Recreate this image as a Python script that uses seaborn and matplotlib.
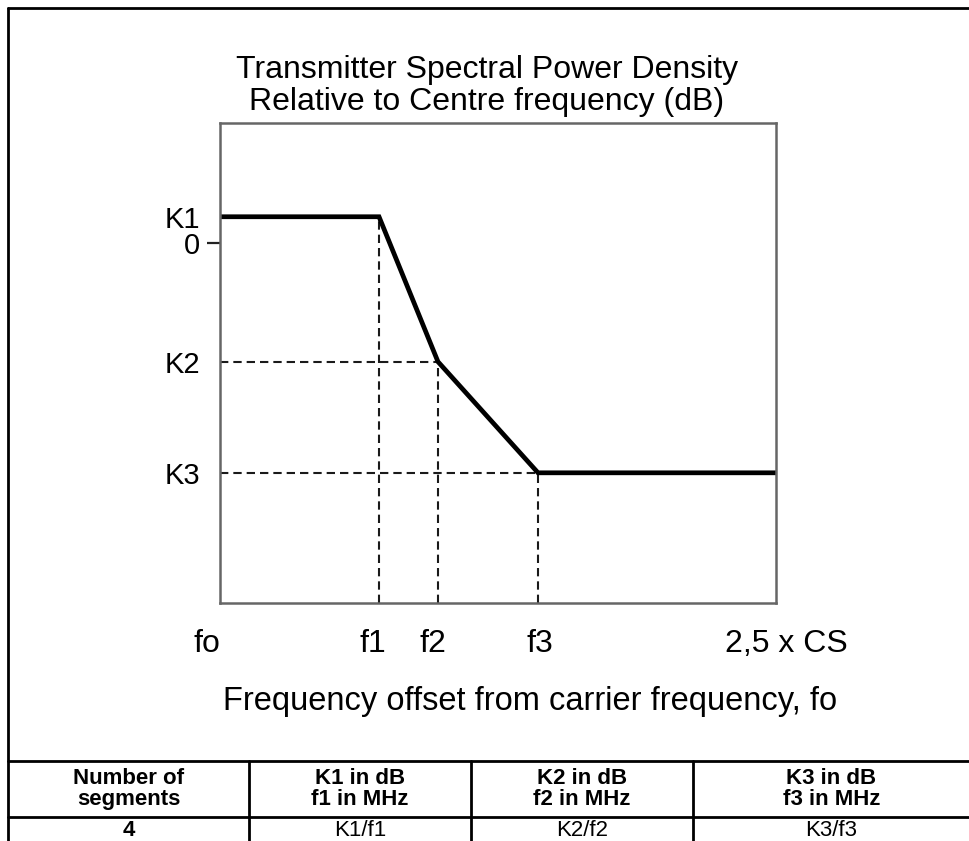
import matplotlib
matplotlib.use("Agg")
import matplotlib.pyplot as plt
import matplotlib.transforms as mtransforms
from matplotlib.lines import Line2D
import pandas as pd
import seaborn as sns

# Mask corner points: frequency offset (in units of CS) and relative level (dB)
freq = [0.0, 0.715, 0.98, 1.43, 2.5]
level = [3.0, 3.0, -13.7, -26.5, -26.5]

x_ticks = [0.0, 0.715, 0.98, 1.43, 2.5]
x_tick_labels = ["fo", "f1", "f2", "f3", "2,5 x CS"]
y_ticks = [3.0, 0.0, -13.7, -26.5]
y_tick_labels = ["K1", "0", "K2", "K3"]

title = "Transmitter Spectral Power Density\nRelative to Centre frequency (dB)"
xlabel = "Frequency offset from carrier frequency, fo"

table_header = ["Number of\nsegments", "K1 in dB\nf1 in MHz",
                "K2 in dB\nf2 in MHz", "K3 in dB\nf3 in MHz"]
table_row = ["4", "K1/f1", "K2/f2", "K3/f3"]

W, H = 970, 841


def fx(px):
    return px / W


def fy(py):
    return 1 - py / H


sns.set_style("white")
plt.rcParams["font.family"] = ["Liberation Sans", "DejaVu Sans"]
plt.rcParams["text.color"] = "black"
plt.rcParams["axes.labelcolor"] = "black"
plt.rcParams["xtick.color"] = "black"
plt.rcParams["ytick.color"] = "black"

fig = plt.figure(figsize=(W / 100, H / 100), dpi=100)
ax = fig.add_axes([fx(220), fy(603), 556 / W, 480 / H])

df = pd.DataFrame({"freq": freq, "level": level})
sns.lineplot(data=df, x="freq", y="level", ax=ax, color="black", lw=3.4,
             sort=False, solid_joinstyle="miter")

ylo, yhi = -41.5, 13.8
dash = dict(color="#1a1a1a", lw=1.5, ls=(0, (4, 2.4)), zorder=1)
# horizontal guides from the axis to the K2 / K3 corners
for i in (2, 3):
    ax.plot([freq[0], freq[i]], [level[i], level[i]], **dash)
# vertical guides from each corner down to the bottom
for i in (1, 2, 3):
    ax.plot([freq[i], freq[i]], [ylo, level[i]], **dash)

ax.set_xlim(freq[0], freq[-1])
ax.set_ylim(ylo, yhi)
for s in ax.spines.values():
    s.set_color("#666666")
    s.set_linewidth(1.8)

ax.set_xticks(x_ticks, x_tick_labels)
ax.tick_params(axis="x", length=0, pad=19, labelsize=23, labelcolor="black")
shift = [-13, -6, -5, 2, 10]
for lab, dx in zip(ax.get_xticklabels(), shift):
    lab.set_transform(lab.get_transform() +
                      mtransforms.ScaledTranslation(dx / 100, 0, fig.dpi_scale_trans))

ax.set_yticks(y_ticks, y_tick_labels)
ax.tick_params(axis="y", length=9.4, width=1.6, color="#222222", pad=5,
               labelsize=21, labelcolor="black")
for t, name in zip(ax.yaxis.get_major_ticks(), y_tick_labels):
    t.tick1line.set_visible(name == "0")

ax.set_ylabel("")
ax.set_xlabel(xlabel, fontsize=23.5, va="center", color="black")
ax.xaxis.set_label_coords(0.558, -0.206)

ax.text(0.48, 1 + 6 / 480, title, ha="center", va="bottom", fontsize=23,
        linespacing=1.1, color="black", transform=ax.transAxes)


# outer frame (left and top)
def fline(x0, y0, x1, y1, lw=2.0):
    fig.add_artist(Line2D([fx(x0), fx(x1)], [fy(y0), fy(y1)], color="black",
                          lw=lw, transform=fig.transFigure))


fline(8, 8, 8, 841)
fline(8, 8, 970, 8)

# table below the chart
col_edges = [8, 249, 471, 693, 970]
fline(8, 761, 970, 761)
fline(8, 817, 970, 817)
for x in col_edges[1:-1]:
    fline(x, 761, x, 841)

for i, (hdr, val) in enumerate(zip(table_header, table_row)):
    cx = (col_edges[i] + col_edges[i + 1]) / 2
    fig.text(fx(cx), fy(789), hdr, ha="center", va="center", fontsize=16,
             fontweight="bold", linespacing=1.0, color="black")
    fig.text(fx(cx), fy(831), val, ha="center", va="center", fontsize=16,
             fontweight="bold" if i == 0 else "normal", color="black")

fig.savefig("out.png", dpi=100)
